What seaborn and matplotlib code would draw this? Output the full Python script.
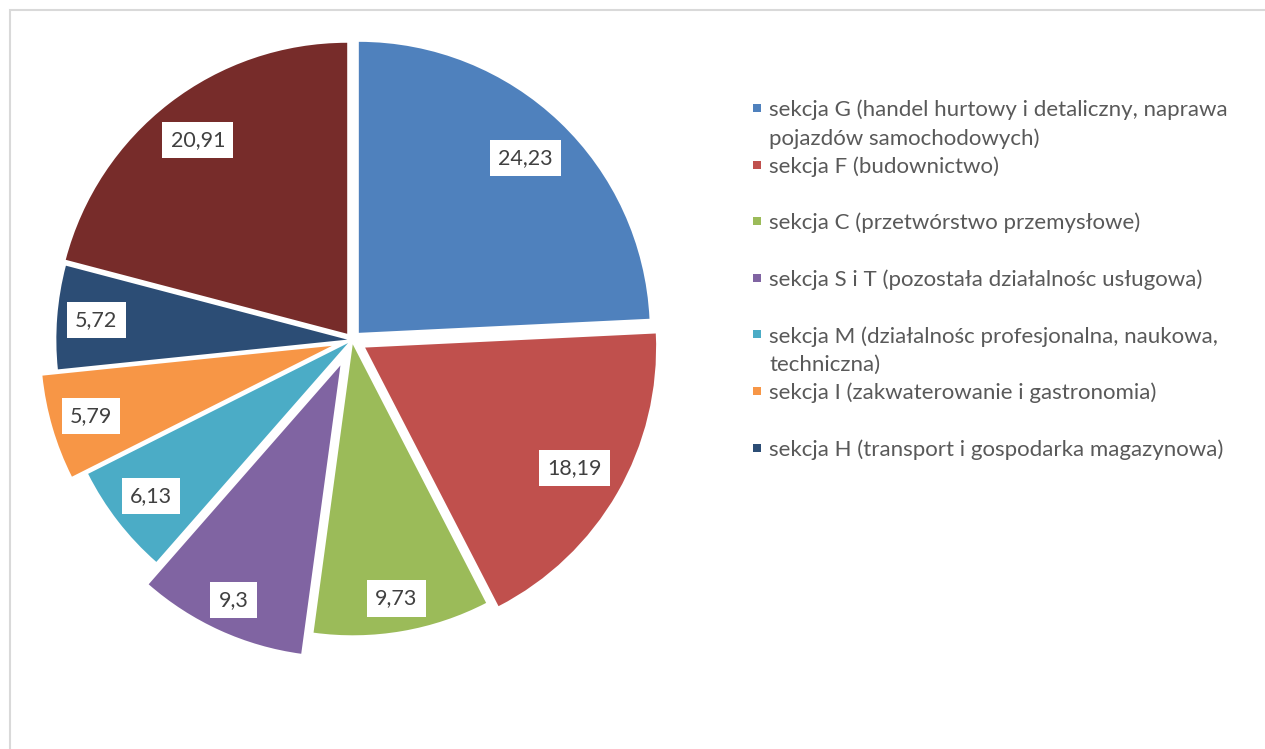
import textwrap

import numpy as np
import matplotlib.pyplot as plt
import seaborn as sns
from matplotlib.patches import Rectangle

# Data
sekcje = [
    'sekcja G (handel hurtowy i detaliczny, naprawa pojazdów samochodowych)',
    'sekcja F (budownictwo)',
    'sekcja C (przetwórstwo przemysłowe)',
    'sekcja S i T (pozostała działalnośc usługowa)',
    'sekcja M (działalnośc profesjonalna, naukowa, techniczna)',
    'sekcja I (zakwaterowanie i gastronomia)',
    'sekcja H (transport i gospodarka magazynowa)',
    'pozostałe',
]
udzial = [24.23, 18.19, 9.73, 9.3, 6.13, 5.79, 5.72, 20.91]
n_legend = 7  # last slice has no legend entry in the original chart

# Styles
colors = sns.color_palette(['#4F81BD', '#C0504D', '#9BBB59', '#8064A2',
                            '#4BACC6', '#F79646', '#2C4D75', '#772C2A'])
explode = [0.034, 0.052, 0.015, 0.096, 0.017, 0.072, 0.016, 0.027]
label_r = [0.83, 0.83, 0.886, 0.886, 0.857, 0.862, 0.865, 0.84]

sns.set_theme(style='white')
plt.rcParams['font.family'] = ['Lato', 'DejaVu Sans']

W, H = 1265, 749
fig = plt.figure(figsize=(W / 100, H / 100), dpi=100)

# pie placed in pixel terms: centre and radius
R, cx, cy = 291, 352, 340
L = 1.15
ax = fig.add_axes([(cx - L * R) / W, (H - cy - L * R) / H, 2 * L * R / W, 2 * L * R / H])

wedges, texts, autotexts = ax.pie(
    udzial,
    colors=colors,
    explode=explode,
    startangle=90,
    counterclock=False,
    autopct='%.2f',
    pctdistance=0.86,
    wedgeprops=dict(linewidth=0),
    textprops=dict(color='#404040', fontsize=15.5),
)
ax.set_xlim(-L, L)
ax.set_ylim(-L, L)
ax.set_aspect('equal')
ax.axis('off')

for w, t, v, r in zip(wedges, autotexts, udzial, label_r):
    t.set_text(f'{v:g}'.replace('.', ','))
    t.set_bbox(dict(boxstyle='square,pad=0.38', fc='white', ec='none'))
    mid = np.deg2rad((w.theta1 + w.theta2) / 2)
    x0, y0_ = w.center
    t.set_position((x0 + r * w.r * np.cos(mid), y0_ + r * w.r * np.sin(mid)))

# Legend drawn by hand (each entry takes two lines, like the original)
y0, pitch = 108, 56.6
for i, (name, col) in enumerate(zip(sekcje[:n_legend], colors[:n_legend])):
    y = y0 + i * pitch
    fig.add_artist(Rectangle((752.5 / W, 1 - (y + 4) / H), 8 / W, 8 / H,
                             transform=fig.transFigure, fc=col, ec='none'))
    for j, line in enumerate(textwrap.wrap(name, width=46)):
        fig.text(769 / W, 1 - (y + j * pitch / 2) / H, line,
                 color='#595959', fontsize=16, va='center_baseline', ha='left')

# light grey chart frame
fig.add_artist(Rectangle((9.5 / W, -0.05), 1.1, 1.05 - 9.5 / H, transform=fig.transFigure,
                         fill=False, ec='#D9D9D9', lw=1.5))

fig.savefig('out.png', dpi=100)
